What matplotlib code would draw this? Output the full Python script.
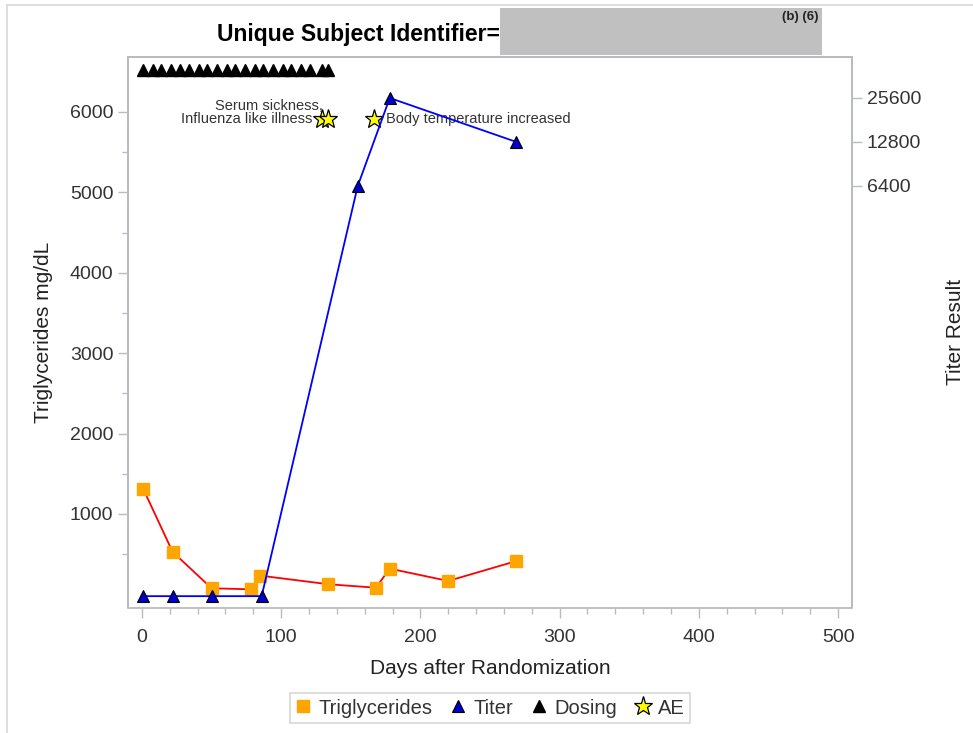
import matplotlib
matplotlib.use("Agg")
import matplotlib.pyplot as plt
from matplotlib.lines import Line2D
from matplotlib.patches import Rectangle
from matplotlib.ticker import FixedLocator, NullFormatter, NullLocator

plt.rcParams['font.family'] = ['Liberation Sans', 'DejaVu Sans']

# ---------------- data ----------------
trig_days = [1, 22, 50, 78, 85, 134, 168, 178, 220, 269]
trig_vals = [1310, 530, 76, 63, 233, 126, 83, 320, 167, 415]

titer_days = [1, 22, 50, 86, 155, 178, 269]
titer_vals = [10, 10, 10, 10, 6400, 25600, 12800]

dose_days = [1, 8, 14, 21, 27, 34, 41, 47, 54, 61, 67, 74, 81, 87, 94,
             101, 107, 114, 121, 129, 134]
dose_level = 6520

ae_days = [129, 134, 167]
ae_level = 5910
ae_labels = ["Influenza like illness", "Serum sickness,", "Body temperature increased"]

left_ticks = [1000, 2000, 3000, 4000, 5000, 6000]
right_ticks = [6400, 12800, 25600]
x_ticks = [0, 100, 200, 300, 400, 500]

W, H = 973, 733
fig = plt.figure(figsize=(W / 100, H / 100), dpi=100)

def fx(px):
    return px / W

def fy(py):
    return 1 - py / H

ax = fig.add_axes([fx(128), fy(607), fx(852) - fx(128), fy(57) - fy(607)])
ax2 = ax.twinx()

spine_c = '#b8bcc0'
txt_c = '#333333'

# triglycerides
ax.plot(trig_days, trig_vals, color='red', lw=1.3, zorder=3)
ax.plot(trig_days, trig_vals, ls='none', marker='s', ms=8.5, mfc='#FFA500',
        mec='#FFA500', zorder=4)

# dosing
ax.plot(dose_days, [dose_level] * len(dose_days), ls='none', marker='^', ms=9,
        color='black', zorder=5)

# AE stars
ax.plot(ae_days, [ae_level] * len(ae_days), ls='none', marker='*', ms=14,
        mfc='yellow', mec='black', mew=0.9, zorder=6)

ax.annotate(ae_labels[0], xy=(ae_days[0], ae_level), xytext=(-9, 0),
            textcoords='offset pixels', ha='right', va='center', fontsize=10.5,
            color=txt_c)
ax.annotate(ae_labels[1], xy=(ae_days[1], ae_level), xytext=(-6, 13),
            textcoords='offset pixels', ha='right', va='center', fontsize=10.5,
            color=txt_c)
ax.annotate(ae_labels[2], xy=(ae_days[2], ae_level), xytext=(12, 0),
            textcoords='offset pixels', ha='left', va='center', fontsize=10.5,
            color=txt_c)

ax.set_xlim(-10, 510)
ax.set_ylim(-157, 6684)

# titer on right axis
ax2.set_yscale('log', base=2)
ax2.plot(titer_days, titer_vals, color='blue', lw=1.3, zorder=3)
ax2.plot(titer_days, titer_vals, ls='none', marker='^', ms=9, mfc='#0000CC',
         mec='black', mew=0.8, zorder=4)
ax2.set_ylim(8.43, 48820)
ax2.yaxis.set_major_locator(FixedLocator(right_ticks))
ax2.yaxis.set_minor_locator(NullLocator())
ax2.set_yticklabels([str(v) for v in right_ticks])
ax2.yaxis.set_minor_formatter(NullFormatter())

# ticks
ax.set_xticks(x_ticks)
ax.set_xticks(range(0, 501, 20), minor=True)
ax.set_yticks(left_ticks)
ax.set_yticks(range(500, 6001, 500), minor=True)

for a in (ax, ax2):
    for s in a.spines.values():
        s.set_color(spine_c)
        s.set_linewidth(1.3)
    a.tick_params(which='major', length=7, width=1, color=spine_c,
                  labelsize=14, labelcolor=txt_c)
    a.tick_params(which='minor', length=4, width=1, color=spine_c)
ax.tick_params(axis='x', which='both', pad=8)
ax.spines['bottom'].set_position(('outward', 1))
ax2.spines['bottom'].set_visible(False)

ax.set_xlabel('Days after Randomization', fontsize=15, color='#222222', labelpad=9)
ax.set_ylabel('Triglycerides mg/dL', fontsize=15, color='#222222', labelpad=12)
ax2.set_ylabel('Titer Result', fontsize=15, color='#222222')
ax2.yaxis.set_label_coords((946 - 128) / 724, 0.5)

# title and redaction box
fig.patches.append(Rectangle((fx(500), fy(55)), fx(822) - fx(500), fy(8) - fy(55),
                             transform=fig.transFigure, facecolor='#c0c0c0',
                             edgecolor='none', zorder=0))
fig.text(fx(500), fy(35), 'Unique Subject Identifier=', ha='right', va='center',
         fontsize=16.5, fontweight='bold', color='black')
fig.text(fx(818), fy(17), '(b) (6)', ha='right', va='center', fontsize=9.5,
         fontweight='bold', color='#222222')

# outer border lines
fig.add_artist(Line2D([fx(7), fx(7)], [fy(5), 0], transform=fig.transFigure,
                      color='#d8d8d8', lw=1.2))
fig.add_artist(Line2D([fx(7), 1], [fy(5), fy(5)], transform=fig.transFigure,
                      color='#d8d8d8', lw=1.2))

# legend
handles = [
    Line2D([], [], ls='none', marker='s', ms=8.5, mfc='#FFA500', mec='#FFA500'),
    Line2D([], [], ls='none', marker='^', ms=9, mfc='#0000CC', mec='black', mew=0.8),
    Line2D([], [], ls='none', marker='^', ms=9, color='black'),
    Line2D([], [], ls='none', marker='*', ms=14, mfc='yellow', mec='black', mew=0.9),
]
leg = fig.legend(handles, ['Triglycerides', 'Titer', 'Dosing', 'AE'],
                 loc='center', bbox_to_anchor=(fx(490), fy(708)), ncol=4,
                 frameon=True, fancybox=False, fontsize=14.5, handlelength=0.8,
                 handletextpad=0.35, columnspacing=0.9, borderpad=0.25)
leg.get_frame().set_edgecolor('#cccccc')
leg.get_frame().set_linewidth(1.2)
for t in leg.get_texts():
    t.set_color(txt_c)

fig.savefig('out.png', dpi=100)
